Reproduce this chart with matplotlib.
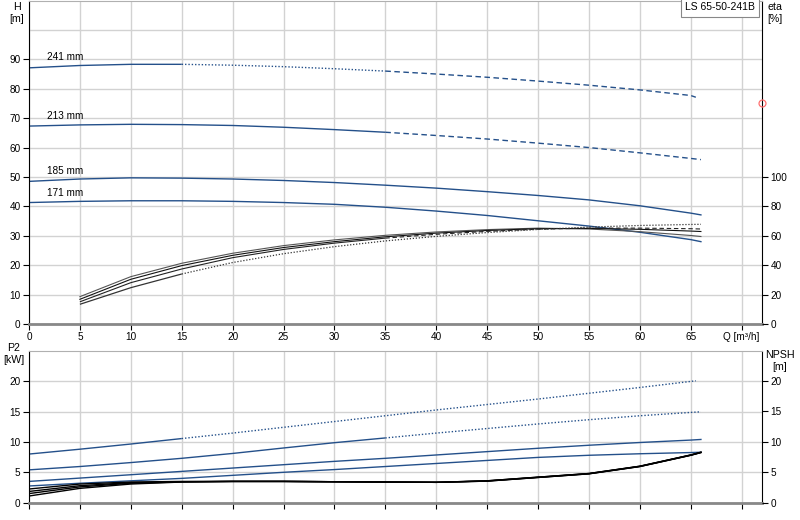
import matplotlib
matplotlib.use('Agg')
import matplotlib.pyplot as plt
import numpy as np

# flow points [m3/h]
q_h = [0, 5, 10, 15, 20, 25, 30, 35, 40, 45, 50, 55, 60, 65, 66]
q_h241 = [0, 5, 10, 15, 20, 25, 30, 35, 40, 45, 50, 55, 60, 65, 65.5]
q_eta = [5, 10, 15, 20, 25, 30, 35, 40, 45, 50, 55, 60, 65, 66]

# head curves [m]
h_241 = [87.1, 87.9, 88.3, 88.3, 88.0, 87.5, 86.8, 86.0, 85.0, 83.9, 82.6, 81.2, 79.6, 77.7, 77.1]
h_213 = [67.3, 67.7, 67.9, 67.8, 67.5, 66.9, 66.1, 65.2, 64.1, 62.9, 61.5, 60.0, 58.2, 56.3, 55.9]
h_185 = [48.5, 49.3, 49.7, 49.6, 49.3, 48.8, 48.1, 47.2, 46.2, 45.0, 43.7, 42.2, 40.2, 37.7, 37.1]
h_171 = [41.3, 41.7, 41.9, 41.9, 41.7, 41.3, 40.7, 39.7, 38.4, 36.9, 35.1, 33.3, 31.2, 28.7, 28.0]

# efficiency [%]
eta_171 = [18.6, 32.2, 41.3, 48.1, 53.3, 57.2, 60.3, 62.6, 64.2, 65.2, 64.6, 62.8, 60.2, 59.5]
eta_185 = [16.8, 30.4, 39.7, 46.7, 52.0, 56.0, 59.3, 61.8, 63.6, 64.8, 65.0, 64.4, 63.2, 62.9]
eta_213 = [15.1, 28.1, 37.4, 45.1, 50.7, 55.0, 58.4, 61.0, 63.0, 64.5, 65.2, 65.2, 64.8, 64.6]
eta_241 = [13.4, 24.7, 34.0, 41.8, 47.8, 52.6, 56.5, 59.6, 62.2, 64.3, 65.9, 67.0, 67.7, 67.8]

# shaft power [kW]
p2_241 = [8.0, 8.8, 9.65, 10.55, 11.45, 12.4, 13.35, 14.3, 15.25, 16.15, 17.05, 18.0, 18.95, 19.95, 20.05]
p2_213 = [5.4, 5.95, 6.6, 7.3, 8.1, 9.0, 9.87, 10.65, 11.45, 12.2, 12.95, 13.65, 14.3, 14.85, 14.95]
p2_185 = [3.5, 4.05, 4.6, 5.15, 5.7, 6.25, 6.8, 7.3, 7.85, 8.4, 8.95, 9.45, 9.9, 10.3, 10.4]
p2_171 = [2.75, 3.2, 3.6, 4.0, 4.5, 5.0, 5.45, 5.95, 6.45, 6.95, 7.45, 7.8, 8.05, 8.25, 8.3]

# NPSH [m]
npsh_a = [2.25, 3.07, 3.4, 3.5, 3.5, 3.5, 3.45, 3.4, 3.35, 3.6, 4.2, 4.8, 6.0, 7.85, 8.3]
npsh_b = [1.85, 2.8, 3.3, 3.45, 3.5, 3.5, 3.45, 3.4, 3.35, 3.6, 4.2, 4.8, 6.0, 7.85, 8.3]
npsh_c = [1.5, 2.6, 3.2, 3.42, 3.5, 3.5, 3.45, 3.4, 3.35, 3.55, 4.15, 4.75, 5.95, 7.8, 8.25]
npsh_d = [1.1, 2.36, 3.07, 3.4, 3.5, 3.5, 3.45, 3.4, 3.35, 3.55, 4.15, 4.75, 5.95, 7.8, 8.25]

diam_labels = ['241 mm', '213 mm', '185 mm', '171 mm']
label_pos = [(1.8, 90.8), (1.8, 70.7), (1.8, 52.0), (1.8, 44.6)]
duty_point = (72.0, 75.2)

BLUE = '#24508a'
GRID = '#d2d2d2'
FS = 7.2
DOTTED = (0, (1, 1.4))
DASHED = (0, (4, 2.5))

plt.rcParams['font.family'] = ['Liberation Sans', 'DejaVu Sans']
plt.rcParams['font.size'] = FS


def split_plot(ax, x, y, cuts, styles, color, lw=1.0):
    '''draw one curve with several line styles, cut at indexes'''
    bounds = [0] + cuts + [len(x) - 1]
    for k in range(len(bounds) - 1):
        a, b = bounds[k], bounds[k + 1]
        ax.plot(x[a:b + 1], y[a:b + 1], color=color, lw=lw, ls=styles[k],
                solid_capstyle='butt')


def style_axes(ax):
    ax.set_xlim(0, 72)
    ax.set_xticks(np.arange(0, 75, 5))
    ax.grid(True, color=GRID, lw=1.0)
    ax.set_axisbelow(True)
    ax.spines['left'].set_color('black')
    ax.spines['right'].set_color('black')
    ax.spines['top'].set_color('#b0b0b0')
    ax.spines['bottom'].set_color('#888888')
    ax.spines['bottom'].set_linewidth(2.0)
    ax.tick_params(length=4, width=0.8, labelsize=FS, pad=2)


fig = plt.figure(figsize=(8, 5.2), dpi=100)

# --- head / efficiency ---
ax1 = fig.add_axes([29 / 800, 1 - 324 / 520, 733 / 800, 323.5 / 520])
style_axes(ax1)
ax1.set_ylim(0, 110)
ax1.set_yticks(np.arange(0, 100, 10))
ax1.axhline(100, color=GRID, lw=1.0, zorder=0)
xl = [str(v) for v in range(0, 70, 5)] + ['Q [m³/h]']
ax1.set_xticklabels(xl)

split_plot(ax1, q_h241, h_241, [3, 7], ['-', DOTTED, DASHED], BLUE)
split_plot(ax1, q_h, h_213, [7], ['-', DASHED], BLUE)
ax1.plot(q_h, h_185, color=BLUE, lw=1.0)
ax1.plot(q_h, h_171, color=BLUE, lw=1.0)

for txt, (x, y) in zip(diam_labels, label_pos):
    ax1.text(x, y, txt, fontsize=FS, ha='left', va='center')

ax1b = ax1.twinx()
ax1b.set_ylim(0, 220)
ax1b.set_yticks(np.arange(0, 120, 20))
ax1b.tick_params(length=4, width=0.8, labelsize=FS, pad=2)
for s in ax1b.spines.values():
    s.set_visible(False)

ax1b.plot(q_eta, eta_171, color='#555555', lw=0.8)
ax1b.plot(q_eta, eta_185, color='#111111', lw=0.8)
split_plot(ax1b, q_eta, eta_213, [6], ['-', DASHED], '#222222', lw=0.8)
split_plot(ax1b, q_eta, eta_241, [2], ['-', DOTTED], '#333333', lw=0.9)

ax1b.plot(duty_point[0], duty_point[1] * 2, 'o', mfc='none', mec='#ff7070',
          ms=5, mew=0.9, clip_on=False)

ax1.text(0.99, 0.994, 'LS 65-50-241B', transform=ax1.transAxes, ha='right',
         va='top', fontsize=FS + 0.3,
         bbox=dict(boxstyle='square,pad=0.4', fc='white', ec='#888888', lw=0.8))

# --- power / NPSH ---
ax2 = fig.add_axes([29 / 800, 1 - 502.7 / 520, 733 / 800, 152 / 520])
style_axes(ax2)
ax2.set_ylim(0, 25)
ax2.set_yticks(np.arange(0, 25, 5))
ax2.set_xticklabels([])

split_plot(ax2, q_h241, p2_241, [3], ['-', DOTTED], BLUE)
split_plot(ax2, q_h, p2_213, [7], ['-', DOTTED], BLUE)
ax2.plot(q_h, p2_185, color=BLUE, lw=1.0)
ax2.plot(q_h, p2_171, color=BLUE, lw=1.0)

ax2b = ax2.twinx()
ax2b.set_ylim(0, 25)
ax2b.set_yticks(np.arange(0, 25, 5))
ax2b.tick_params(length=4, width=0.8, labelsize=FS, pad=2)
for s in ax2b.spines.values():
    s.set_visible(False)
for arr in [npsh_a, npsh_b, npsh_c, npsh_d]:
    ax2b.plot(q_h, arr, color='black', lw=1.0)

# axis titles
fig.text(17 / 800, 1 - 2 / 520, 'H\n[m]', ha='center', va='top', fontsize=FS + 0.5,
         linespacing=1.3)
fig.text(775 / 800, 1 - 2 / 520, 'eta\n[%]', ha='center', va='top', fontsize=FS + 0.5,
         linespacing=1.3)
fig.text(14 / 800, 1 - 343 / 520, 'P2\n[kW]', ha='center', va='top', fontsize=FS + 0.5,
         linespacing=1.3)
fig.text(780 / 800, 1 - 350 / 520, 'NPSH\n[m]', ha='center', va='top', fontsize=FS + 0.5,
         linespacing=1.3)

fig.savefig('out.png', dpi=100)
